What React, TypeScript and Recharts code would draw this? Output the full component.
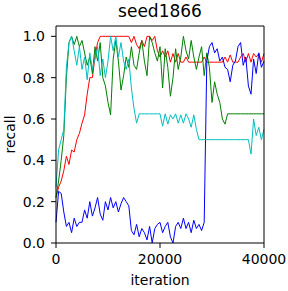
import React from 'react';
import { LineChart, Line, XAxis, YAxis, ReferenceLine } from 'recharts';

// iteration grid (every 500 iterations, 0..40000)
const iterations: number[] = Array.from({ length: 81 }, (_, i) => i * 500);

const xTicks = [0, 20000, 40000];
const yTicks = [0, 0.2, 0.4, 0.6, 0.8, 1.0];
const xMax = 40000;
const yMax = 1.05;

const redSeries = [
  0.22, 0.27, 0.3, 0.35, 0.42, 0.38, 0.45, 0.44, 0.5, 0.53, 0.58, 0.62, 0.72, 0.8, 0.8, 0.9, 0.97,
  1.0, 1.0, 1.0, 1.0, 1.0, 1.0, 1.0, 1.0, 1.0, 1.0, 1.0, 1.0,
  0.97, 1.0, 0.96, 0.94, 0.98, 0.95, 1.0, 1.0, 0.98, 1.0, 0.93, 0.9, 0.93, 0.9, 0.93, 0.875, 0.917, 0.875, 0.917, 0.875, 0.875, 0.9, 0.875,
  0.875, 0.875, 0.875, 0.875, 0.875, 0.9, 0.875, 0.875, 0.875, 0.875, 0.875, 0.875, 0.875, 0.9, 0.875, 0.91, 0.875, 0.875, 0.875, 0.9, 0.917, 0.875, 0.917, 0.875, 0.917, 0.9, 0.917, 0.875, 0.917,
];

const greenSeries = [
  0.22, 0.3, 0.4, 0.52, 0.8, 0.97, 1.0, 0.96, 1.0, 0.95, 0.98, 0.92, 0.86, 0.9, 0.82, 0.95, 0.88, 0.97, 0.8,
  0.76, 0.68, 0.62, 0.89, 0.98, 0.88, 0.74, 0.81, 0.9, 0.85, 0.95, 0.86, 0.84, 0.92, 0.98, 0.88, 0.81, 1.0, 0.97, 0.92, 0.88, 0.95,
  0.75, 0.94, 0.85, 0.71, 0.8, 0.94, 0.84, 0.9, 1.0, 0.93, 0.89, 0.98, 0.9, 0.84, 0.9, 0.95, 0.81, 0.92, 0.85, 0.68, 0.78, 0.72, 0.68, 0.6, 0.575, 0.625,
  0.625, 0.625, 0.625, 0.625, 0.625, 0.625, 0.625, 0.625, 0.625, 0.625, 0.625, 0.625, 0.625, 0.625,
];

const cyanSeries = [
  0.27, 0.45, 0.5, 0.55, 0.85, 0.97, 1.0, 0.93, 0.86, 0.95, 0.84, 0.9, 0.79, 0.92, 0.84, 0.89, 0.95, 0.81, 0.89, 0.8,
  0.88, 1.0, 0.93, 1.0, 0.9, 0.97, 0.88, 0.84, 0.89, 0.75, 0.65, 0.58, 0.625, 0.625, 0.625, 0.625, 0.625, 0.625, 0.625, 0.625, 0.625,
  0.565, 0.625, 0.575, 0.62, 0.6, 0.625, 0.58, 0.62, 0.58, 0.625, 0.6, 0.56, 0.62, 0.55, 0.5,
  0.5, 0.5, 0.5, 0.5, 0.5, 0.5, 0.5, 0.5, 0.5, 0.5, 0.5, 0.5, 0.5, 0.5, 0.5, 0.5, 0.5, 0.5, 0.5,
  0.43, 0.6, 0.52, 0.56, 0.5, 0.55,
];

const blueSeries = [
  0.1, 0.25, 0.24, 0.15, 0.08, 0.1, 0.05, 0.12, 0.08, 0.1, 0.1, 0.16, 0.12, 0.2, 0.13, 0.17, 0.22, 0.14, 0.11, 0.2, 0.16, 0.22, 0.17, 0.2, 0.15, 0.19, 0.22, 0.2, 0.18,
  0.06, 0.04, 0.09, 0.03, 0.07, 0.05, 0.015, 0.08, 0.0, 0.07, 0.09, 0.1, 0.05, 0.08, 0.1, 0.03, 0.0, 0.08, 0.1, 0.07, 0.12, 0.07, 0.1, 0.05, 0.11, 0.07, 0.09, 0.06, 0.1,
  0.88, 0.95, 0.97, 0.92, 0.94, 0.88, 0.9, 0.85, 0.84, 0.78, 0.86, 0.88, 0.95, 0.97, 0.86, 0.9, 0.76, 0.72, 0.89, 0.82, 0.92, 0.85, 0.88,
];

const data = iterations.map((it, i) => ({
  iteration: it,
  red: redSeries[i],
  green: greenSeries[i],
  blue: blueSeries[i],
  cyan: cyanSeries[i],
}));

const FONT = 'DejaVu Sans';
const tickStyle = { fill: '#000', fontSize: 14, fontFamily: FONT };

const YLabel = (props: any) => {
  const vb = props.viewBox || { x: 6, y: 26, width: 50, height: 217 };
  const cx = vb.x + 9;
  const cy = vb.y + vb.height / 2;
  return (
    <text
      x={cx}
      y={cy}
      transform={`rotate(-90 ${cx} ${cy})`}
      textAnchor="middle"
      fill="#000"
      fontSize={14}
      fontFamily={FONT}
    >
      recall
    </text>
  );
};

export default function App() {
  return (
    <div style={{ width: 288, height: 291 }}>
      <style>{'body{margin:0}'}</style>
      <LineChart
        width={288}
        height={291}
        data={data}
        margin={{ top: 26, right: 24, bottom: 6, left: 6 }}
      >
        <XAxis
          dataKey="iteration"
          type="number"
          domain={[0, xMax]}
          ticks={xTicks}
          tickSize={5}
          tickMargin={6}
          tick={tickStyle}
          stroke="#000"
          height={42}
          label={{ value: 'iteration', position: 'insideBottom', offset: 0, fill: '#000', fontSize: 14, fontFamily: FONT }}
        />
        <YAxis
          type="number"
          domain={[0, yMax]}
          ticks={yTicks}
          tickFormatter={(v: number) => v.toFixed(1)}
          tickSize={5}
          tickMargin={6}
          tick={tickStyle}
          stroke="#000"
          width={50}
          label={<YLabel />}
        />
        <Line dataKey="red" stroke="#ff0000" strokeWidth={1} dot={false} isAnimationActive={false} />
        <Line dataKey="green" stroke="#008000" strokeWidth={1} dot={false} isAnimationActive={false} />
        <Line dataKey="blue" stroke="#0000ff" strokeWidth={1} dot={false} isAnimationActive={false} />
        <Line dataKey="cyan" stroke="#00bfbf" strokeWidth={1} dot={false} isAnimationActive={false} />
        <ReferenceLine
          y={yMax}
          stroke="#000"
          strokeWidth={1}
          label={{ value: 'seed1866', position: 'top', offset: 9, fill: '#000', fontSize: 17, fontFamily: FONT }}
        />
        <ReferenceLine x={xMax} stroke="#000" strokeWidth={1} />
      </LineChart>
    </div>
  );
}
